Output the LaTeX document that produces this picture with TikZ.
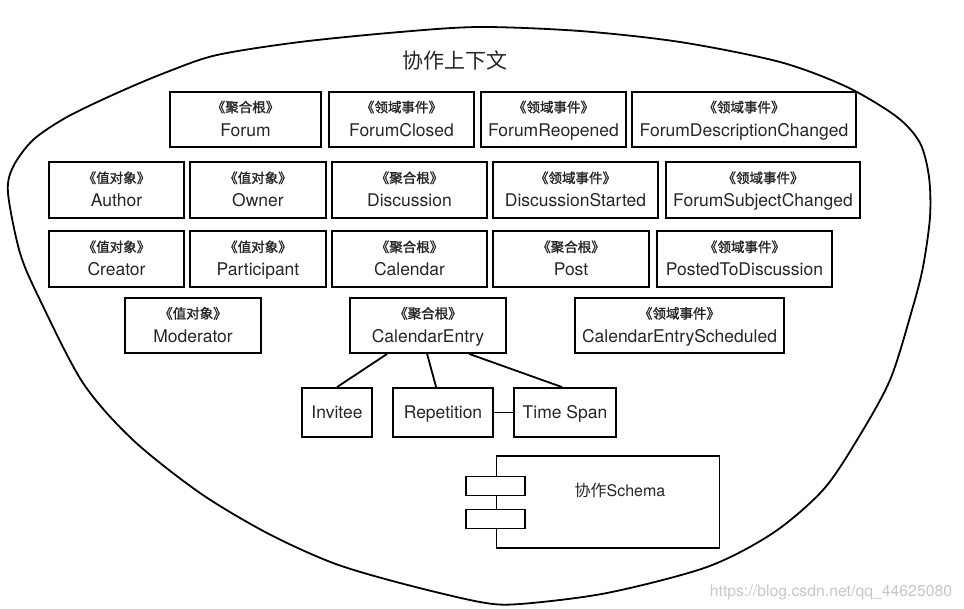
\documentclass[tikz,border=0pt]{standalone}
\usepackage{fontspec}
\setmainfont{TeX Gyre Heros}
\newfontfamily\cjk{Noto Sans CJK SC}
\newfontfamily\cjkb[FakeBold=1.5]{Noto Sans CJK SC}
\usetikzlibrary{calc}
\newcommand\stereo[1]{{\cjkb\fontsize{13.5}{24}\selectfont 《#1》}}
\begin{document}
\begin{tikzpicture}[x=1pt,y=-1pt,
  box/.style={draw, line width=1.8pt, inner sep=0pt, align=center, text=black!85,
    text height=38pt, text depth=4pt, font=\fontsize{17.5}{24}\selectfont},
  plainbox/.style={draw, line width=1.8pt, inner sep=0pt, text=black!85,
    text height=12.6pt, text depth=0pt, font=\fontsize{17.5}{24}\selectfont},
  link/.style={line width=1.8pt},
  port/.style={draw, line width=1.6pt, fill=white, inner sep=0pt, minimum width=59pt, minimum height=19pt}]
\useasboundingbox (0,0) rectangle (964,609);
% context outline
\draw[line width=1.8pt] plot[smooth cycle] coordinates {
 (480,27) (580,31) (680,42) (780,62) (847,87) (897,117) (920,143) (929,177) (930,217)
 (923,267) (912,310) (890,380) (857,440) (823,490) (773,533) (707,567) (607,593)
 (520,604) (480,602) (400,583) (333,563) (267,533) (200,493) (133,440) (83,383)
 (40,300) (20,253) (8,193) (13,167) (33,140) (67,117) (117,93) (167,72) (217,55)
 (300,42) (400,32)};
\node[text=black!85, font=\cjk\fontsize{21}{21}\selectfont] (title) at (455,60) {协作上下文};
% row 1
\node[box, minimum width=151pt, minimum height=55pt] (forum) at (245.5,119.2) {\stereo{聚合根}\\Forum};
\node[box, minimum width=145pt, minimum height=55pt] (fclosed) at (401.5,119.2) {\stereo{领域事件}\\ForumClosed};
\node[box, minimum width=145pt, minimum height=55pt] (freop) at (553.5,119.2) {\stereo{领域事件}\\ForumReopened};
\node[box, minimum width=224pt, minimum height=55pt] (fdesc) at (744,119.2) {\stereo{领域事件}\\ForumDescriptionChanged};
% row 2
\node[box, minimum width=135pt, minimum height=56pt] (author) at (116.5,190) {\stereo{值对象}\\Author};
\node[box, minimum width=136pt, minimum height=56pt] (owner) at (258,190) {\stereo{值对象}\\Owner};
\node[box, minimum width=155pt, minimum height=56pt] (disc) at (409.5,190) {\stereo{聚合根}\\Discussion};
\node[box, minimum width=165pt, minimum height=56pt] (dstart) at (575.5,190) {\stereo{领域事件}\\DiscussionStarted};
\node[box, minimum width=194pt, minimum height=56pt] (fsubj) at (763,190) {\stereo{领域事件}\\ForumSubjectChanged};
% row 3
\node[box, minimum width=135pt, minimum height=56pt] (creator) at (116.5,259) {\stereo{值对象}\\Creator};
\node[box, minimum width=136pt, minimum height=56pt] (partic) at (258,259) {\stereo{值对象}\\Participant};
\node[box, minimum width=155pt, minimum height=56pt] (calendar) at (409.5,259) {\stereo{聚合根}\\Calendar};
\node[box, minimum width=156pt, minimum height=56pt] (post) at (571,259) {\stereo{聚合根}\\Post};
\node[box, minimum width=175pt, minimum height=56pt] (posted) at (744.5,259) {\stereo{领域事件}\\PostedToDiscussion};
% row 4
\node[box, minimum width=136pt, minimum height=55pt] (moder) at (193,325.5) {\stereo{值对象}\\Moderator};
\node[box, minimum width=156pt, minimum height=55pt] (calentry) at (428,325.5) {\stereo{聚合根}\\CalendarEntry};
\node[box, minimum width=209pt, minimum height=55pt] (calsched) at (679.5,325.5) {\stereo{领域事件}\\CalendarEntryScheduled};
% row 5
\node[plainbox, minimum width=70pt, minimum height=49pt] (invitee) at (337,412.5) {Invitee};
\node[plainbox, minimum width=100pt, minimum height=49pt] (rep) at (443,412.5) {Repetition};
\node[plainbox, minimum width=102pt, minimum height=49pt] (tspan) at (565,412.5) {Time Span};
% connectors
\draw[link] ($(calentry.south west)+(38,0)$) -- (invitee.north);
\draw[link] ($(calentry.south west)+(78,0)$) -- ($(rep.north west)+(44,0)$);
\draw[link] ($(calentry.south west)+(120,0)$) -- ($(tspan.north west)+(49,0)$);
\draw[link] (rep) -- (tspan);
% schema component
\node[draw, line width=1.6pt, inner sep=0pt, minimum width=223pt, minimum height=92pt] (schema) at (608,502) {};
\node[port] (port1) at (495.5,486) {};
\node[port] (port2) at (495.5,519) {};
\node[text=black!85, font=\fontsize{16}{16}\selectfont] (schemalbl) at (620,490) {{\cjk 协作}Schema};
% watermark
\node[text=black!22, font=\fontsize{15.8}{16}\selectfont] (wm) at (831,592) {https://blog.csdn.net/qq\_44625080};
\end{tikzpicture}
\end{document}
